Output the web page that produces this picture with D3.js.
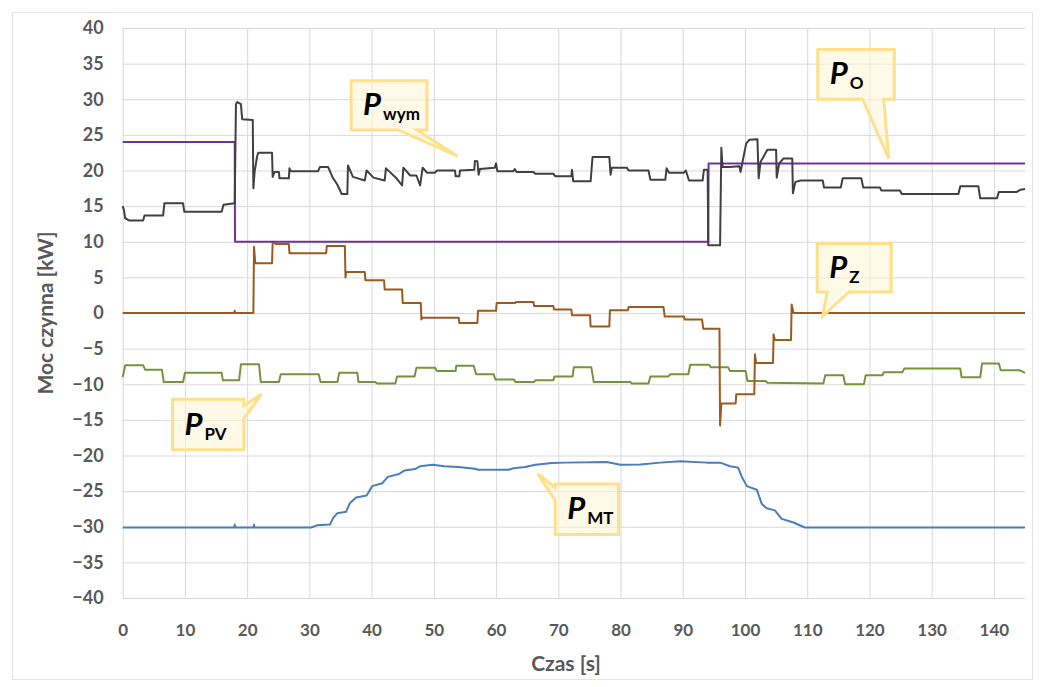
<!DOCTYPE html>
<html>
<head>
<meta charset="utf-8">
<script src="https://cdn.jsdelivr.net/npm/d3@7"></script>
<style>
  html, body { margin: 0; padding: 0; background: #fff; overflow: hidden; }
  svg { display: block; }
  .grid line { stroke: #d9d9d9; stroke-width: 1; }
  .grid path { display: none; }
  .yTicks text { font-family: Lato, "Open Sans", sans-serif; font-weight: 700; font-size: 18px; fill: #595959; }
  .xTicks text { font-family: Lato, "Open Sans", sans-serif; font-weight: 700; font-size: 17px; fill: #595959; }
  .axis-title { font-family: Lato, "Open Sans", sans-serif; font-weight: 700; font-size: 21px; fill: #595959; }
  .line-path { fill: none; stroke-width: 2; stroke-linejoin: round; }
</style>
</head>
<body>
<svg id="chart" width="1040" height="687"></svg>
<script>
// tick labels
const yTicks = [-40, -35, -30, -25, -20, -15, -10, -5, 0, 5, 10, 15, 20, 25, 30, 35, 40];
const xTicks = [0, 10, 20, 30, 40, 50, 60, 70, 80, 90, 100, 110, 120, 130, 140];

// series: [czas s, moc kW]
const pWym = [[0,15.0],[0.2,14.4],[0.4,13.3],[1,13.0],[3.3,13.0],[3.5,13.7],[6.5,13.7],[6.7,15.4],[9.7,15.4],[9.9,14.2],
  [15.9,14.2],[16.2,15.2],[18.0,15.4],[18.2,29.3],[18.4,29.6],[19.0,29.3],[19.2,27.2],[20.9,27.1],[21.0,17.5],[21.2,19.8],
  [21.6,22.0],[21.8,22.5],[24.0,22.5],[24.1,19.1],[24.4,19.8],[25.1,19.8],[25.2,18.9],[26.7,18.9],[26.8,20.3],[27.0,19.9],
  [31.4,19.9],[31.7,20.5],[33.0,20.5],[33.7,19.1],[34.5,18.0],[35.2,16.7],[36.1,16.7],[36.2,20.7],[37.0,19.1],[38.9,18.6],
  [39.2,20.0],[40.3,19.0],[42.1,18.6],[42.3,20.3],[44.0,18.9],[44.9,17.9],[45.1,20.4],[46.2,19.3],[47.2,19.3],[47.8,17.9],
  [48.2,20.4],[48.6,20.0],[48.9,19.7],[50.2,19.7],[50.5,20.0],[53.4,20.0],[53.5,19.2],[54.1,19.2],[54.2,20.0],[56.5,20.1],
  [56.6,21.35],[57.0,21.3],[57.2,19.4],[57.4,20.2],[59.8,20.4],[60.0,21.0],[60.2,19.9],[62.8,19.9],[63.0,20.2],[63.3,19.8],
  [66.0,19.8],[66.3,19.55],[69.2,19.55],[69.5,19.2],[72.1,19.2],[72.2,20.1],[72.4,18.5],[75.2,18.5],[75.5,21.9],[78.2,21.9],
  [78.4,19.4],[78.6,20.4],[81.0,20.4],[81.3,20.0],[84.5,20.0],[84.8,18.7],[87.2,18.7],[87.4,20.3],[87.8,19.7],[90.2,19.7],
  [90.5,20.0],[91.0,18.6],[93.2,18.6],[93.4,20.1],[94.0,20.1],[94.1,9.5],[96.0,9.5],[96.2,23.2],[96.4,20.5],[97.5,20.5],
  [99.1,20.6],[99.3,19.8],[99.6,21.2],[100.2,23.8],[100.7,24.3],[102.0,24.4],[102.2,18.9],[102.5,21.2],[103.6,22.9],[105.0,22.9],
  [105.1,19.0],[105.5,21.0],[106.2,21.7],[107.6,21.7],[107.7,16.8],[108.1,18.4],[109.0,18.6],[112.5,18.6],[112.7,17.6],[115.4,17.6],
  [115.7,18.9],[118.7,18.9],[119.0,17.6],[121.7,17.6],[121.9,17.2],[124.9,17.2],[125.2,16.7],[134.3,16.7],[134.6,17.8],[137.5,17.8],
  [137.8,16.1],[140.5,16.1],[140.8,17.0],[143.7,17.0],[144.3,17.3],[145,17.4]];

const pO = [[0,24],[18.0,24],[18.05,10],[94.1,10],[94.15,21],[145,21]];

const pZ = [[0,0],[17.9,0],[18.0,0.3],[18.1,0],[21.0,0],[21.1,9.3],[21.3,7.0],[24.0,7.0],[24.1,10.0],[24.6,9.7],
  [26.7,9.7],[26.8,8.4],[32.7,8.4],[32.8,9.4],[35.7,9.4],[35.8,5.0],[35.9,5.75],[38.9,5.75],[39.0,4.6],[42.0,4.6],
  [42.1,3.3],[44.9,3.3],[45.0,1.4],[47.9,1.4],[48.0,-0.9],[48.2,-0.65],[54.0,-0.65],[54.1,-1.4],[57.0,-1.4],[57.1,0.3],
  [60.0,0.3],[60.1,1.4],[63.1,1.4],[63.2,1.55],[66.0,1.55],[66.1,1.0],[69.2,1.0],[69.3,0.5],[72.1,0.5],[72.2,-0.3],
  [75.1,-0.3],[75.2,-1.9],[78.2,-1.9],[78.3,0.4],[81.2,0.4],[81.3,0.85],[86.9,0.85],[87.1,-0.5],[90.2,-0.5],[90.3,-0.9],
  [93.1,-0.9],[93.3,-2.2],[95.9,-2.2],[96.0,-15.8],[96.2,-12.7],[98.5,-12.7],[98.6,-11.4],[101.5,-11.4],[101.6,-5.8],[101.8,-7.0],
  [104.5,-7.0],[104.6,-3.0],[104.8,-3.8],[107.4,-3.8],[107.5,1.2],[107.8,0],[145,0]];

const pPV = [[0,-9.0],[0.4,-7.35],[3.3,-7.35],[3.6,-7.95],[6.3,-7.95],[6.6,-9.7],[9.7,-9.7],[10.0,-8.4],[15.9,-8.4],[16.1,-9.45],
  [18.7,-9.45],[19.0,-7.2],[21.9,-7.2],[22.2,-9.7],[25.1,-9.7],[25.4,-8.6],[31.5,-8.6],[31.8,-9.7],[34.5,-9.7],[34.8,-8.4],
  [37.7,-8.4],[37.9,-9.7],[40.6,-9.7],[40.9,-9.9],[43.8,-9.9],[44.1,-8.9],[46.9,-8.9],[47.2,-7.7],[50.2,-7.7],[50.5,-8.15],
  [53.5,-8.15],[53.6,-7.4],[56.4,-7.4],[56.8,-8.6],[59.6,-8.6],[59.9,-9.35],[62.9,-9.35],[63.1,-9.7],[66.1,-9.7],[66.3,-9.45],
  [69.2,-9.45],[69.4,-8.9],[72.3,-8.9],[72.5,-7.6],[75.3,-7.6],[75.7,-9.7],[81.6,-9.7],[81.8,-9.9],[84.5,-9.9],[84.8,-8.9],
  [87.7,-8.9],[88.0,-8.6],[90.9,-8.6],[91.2,-7.25],[94.2,-7.25],[94.5,-7.6],[97.3,-7.6],[97.6,-8.15],[100.1,-8.15],[100.4,-9.55],
  [103.3,-9.55],[103.6,-9.8],[112.6,-9.9],[112.9,-8.75],[115.8,-8.75],[116.1,-10.0],[119.1,-10.0],[119.4,-8.75],[122.1,-8.75],[122.3,-8.3],
  [125.3,-8.3],[125.6,-7.8],[134.6,-7.8],[134.8,-9.0],[137.8,-9.0],[138.1,-7.1],[140.8,-7.1],[141.1,-8.05],[144.2,-8.05],[145,-8.4]];

const pMT = [[0,-30.1],[17.9,-30.1],[18.0,-29.7],[18.1,-30.1],[21.0,-30.1],[21.1,-29.7],[21.2,-30.1],[30.3,-30.1],[31.2,-29.8],[33.3,-29.7],
  [33.8,-28.8],[34.5,-28.1],[35.9,-27.9],[36.5,-26.7],[37.5,-25.9],[39.2,-25.6],[40.1,-24.3],[41.7,-23.9],[42.6,-23.0],[44.4,-22.6],
  [45.3,-22.1],[47.0,-21.9],[47.8,-21.5],[49.8,-21.3],[51.7,-21.5],[53.9,-21.6],[56.6,-21.85],[57.1,-22.0],[62.0,-22.0],[62.8,-21.8],
  [64.7,-21.6],[66.3,-21.3],[69.0,-21.05],[71.2,-21.0],[77.8,-20.9],[80.0,-21.3],[83.2,-21.25],[86.4,-21.0],[89.6,-20.8],[93.9,-21.0],
  [96.0,-21.0],[97.6,-21.5],[98.9,-21.7],[99.5,-23.0],[100.3,-24.3],[101.9,-24.8],[102.7,-26.8],[103.5,-27.4],[104.8,-27.7],[105.9,-28.9],
  [107.8,-29.4],[109.6,-30.1],[145,-30.1]];

const svg = d3.select('#chart');
const margin = {top: 28, right: 15, left: 122.7, bottom: 89};
const width = +svg.attr('width');
const height = +svg.attr('height');
const innerWidth = width - margin.left - margin.right;
const innerHeight = height - margin.top - margin.bottom;

// outer chart frame
svg.append('rect')
  .attr('x', 12.5).attr('y', 12.5)
  .attr('width', 1020).attr('height', 667)
  .attr('fill', 'none').attr('stroke', '#e3e3e3');

const g = svg.append('g').attr('transform', `translate(${margin.left}, ${margin.top})`);

const xScale = d3.scaleLinear().domain([0, 145]).range([0, innerWidth]);
const yScale = d3.scaleLinear().domain([-40, 40]).range([innerHeight, 0]);

g.append('g').attr('class', 'grid yTicks')
  .call(d3.axisLeft(yScale).tickValues(yTicks).tickSize(-innerWidth).tickPadding(19));

g.append('g').attr('class', 'grid xTicks')
  .attr('transform', `translate(0, ${innerHeight})`)
  .call(d3.axisBottom(xScale).tickValues(xTicks).tickSize(-innerHeight).tickPadding(26));

svg.append('text').attr('class', 'axis-title')
  .attr('transform', 'translate(53, 313) rotate(-90)')
  .attr('text-anchor', 'middle')
  .text('Moc czynna [kW]');

svg.append('text').attr('class', 'axis-title')
  .attr('x', 566).attr('y', 671)
  .attr('text-anchor', 'middle')
  .text('Czas [s]');

const lineGenerator = d3.line()
  .x(d => xScale(d[0]))
  .y(d => yScale(d[1]));

const series = [
  {data: pMT, color: '#4a7ebb'},
  {data: pPV, color: '#77933c'},
  {data: pZ, color: '#9c5a1e'},
  {data: pO, color: '#7030a0'},
  {data: pWym, color: '#404040'}
];

g.selectAll('.line-path').data(series)
  .enter().append('path')
  .attr('class', 'line-path')
  .attr('stroke', d => d.color)
  .attr('d', d => lineGenerator(d.data));

// callouts (annotation boxes in data units)
const callouts = [
  {sub: 'wym', t0: 36.7, t1: 48.9, vTop: 32.6, vBot: 25.7, edge: 'bottom', a0: 44.3, a1: 47.3, tip: [53.8, 22.0]},
  {sub: 'O', t0: 111.7, t1: 124.0, vTop: 37.0, vBot: 30.0, edge: 'bottom', a0: 118.9, a1: 122.3, tip: [123.1, 21.7]},
  {sub: 'Z', t0: 111.6, t1: 123.5, vTop: 9.75, vBot: 2.95, edge: 'bottom', a0: 113.2, a1: 116.7, tip: [112.5, -0.45]},
  {sub: 'PV', t0: 8.0, t1: 19.5, vTop: -12.1, vBot: -19.2, edge: 'right', a0: -13.0, a1: -14.8, tip: [22.3, -11.4]},
  {sub: 'MT', t0: 69.5, t1: 79.7, vTop: -24.0, vBot: -31.1, edge: 'left', a0: -24.5, a1: -26.3, tip: [66.7, -22.55]}
];

function calloutPath(c) {
  const x0 = xScale(c.t0), x1 = xScale(c.t1), y0 = yScale(c.vTop), y1 = yScale(c.vBot);
  const tx = xScale(c.tip[0]), ty = yScale(c.tip[1]);
  const p = d3.path();
  p.moveTo(x0, y0);
  p.lineTo(x1, y0);
  if (c.edge === 'right') {
    p.lineTo(x1, yScale(c.a0)); p.lineTo(tx, ty); p.lineTo(x1, yScale(c.a1));
  }
  p.lineTo(x1, y1);
  if (c.edge === 'bottom') {
    p.lineTo(xScale(c.a1), y1); p.lineTo(tx, ty); p.lineTo(xScale(c.a0), y1);
  }
  p.lineTo(x0, y1);
  if (c.edge === 'left') {
    p.lineTo(x0, yScale(c.a1)); p.lineTo(tx, ty); p.lineTo(x0, yScale(c.a0));
  }
  p.closePath();
  return p.toString();
}

const cg = g.selectAll('.callout').data(callouts).enter().append('g').attr('class', 'callout');
cg.append('path')
  .attr('d', calloutPath)
  .attr('fill', '#fff4d6').attr('fill-opacity', 0.55)
  .attr('stroke', '#ffe08a').attr('stroke-width', 3).attr('stroke-linejoin', 'miter');

const label = cg.append('text')
  .attr('x', d => xScale(d.t0) + 12)
  .attr('y', d => (yScale(d.vTop) + yScale(d.vBot)) / 2 + 10)
  .attr('font-family', 'Lato, "Open Sans", sans-serif')
  .attr('font-weight', 700)
  .attr('fill', '#000');
label.append('tspan').attr('font-size', 31).attr('font-style', 'italic').text('P');
label.append('tspan').attr('font-size', 17).attr('dx', 2).attr('dy', 5).text(d => d.sub);
</script>
</body>
</html>
